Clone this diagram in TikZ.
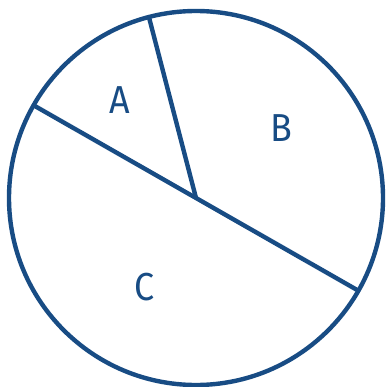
\documentclass[tikz,border=0pt]{standalone}
\usepackage{fontspec}
\setmainfont{Fira Sans}
\definecolor{pieblue}{RGB}{24,76,132}
\begin{document}
\begin{tikzpicture}[x=1pt,y=-1pt,
  edge/.style={draw=pieblue,line width=4.4pt},
  lbl/.style={text=pieblue,font=\fontsize{39}{42}\selectfont,inner sep=0pt,xscale=0.92}]
\useasboundingbox (0,0) rectangle (385,387);
\coordinate (O) at (196,198);
\coordinate (P1) at (33.6,105.3);
\coordinate (P2) at (358.4,290.7);
\coordinate (P3) at (148.9,17);
\draw[edge] (O) circle[radius=187];
\draw[edge] (P1) -- (P2);
\draw[edge] (O) -- (P3);
\node[lbl] (A) at (120,100) {A};
\node[lbl] (B) at (281,128) {B};
\node[lbl] (C) at (145,287) {C};
\end{tikzpicture}
\end{document}
